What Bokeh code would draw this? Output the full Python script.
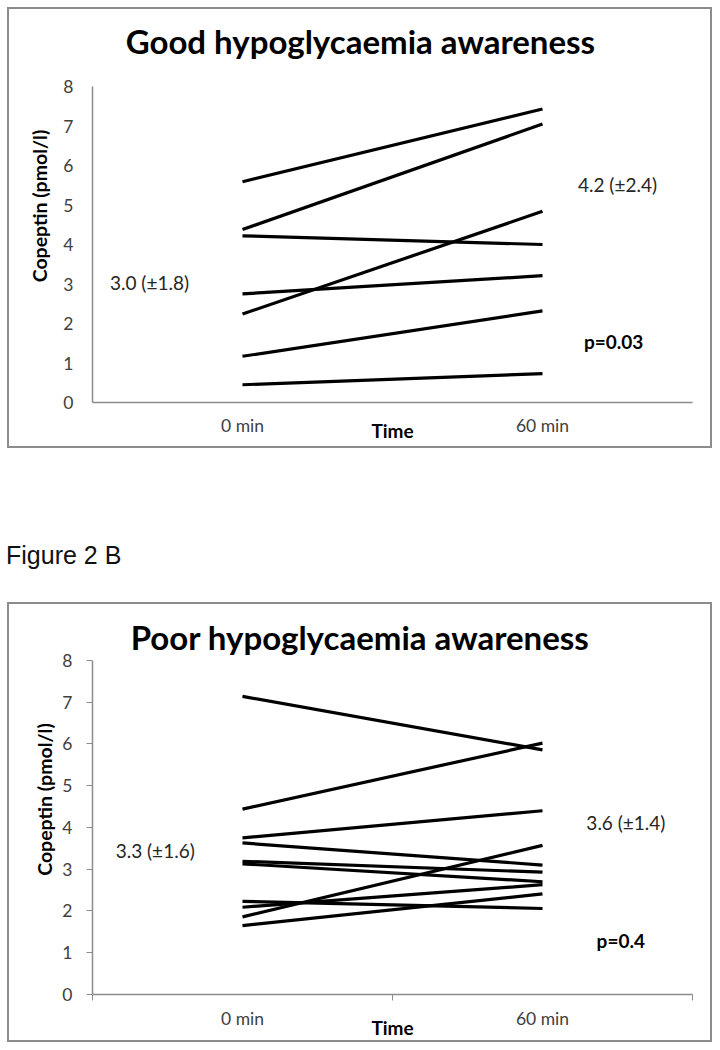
from bokeh.plotting import figure
from bokeh.models import Range1d, FixedTicker, Label, Div
from bokeh.layouts import column
from bokeh.embed import file_html
from bokeh.resources import INLINE

# ---------------- data ----------------
times = ["0 min", "60 min"]
y_ticks = [0, 1, 2, 3, 4, 5, 6, 7, 8]

good_title = "Good hypoglycaemia awareness"
good_0 = [5.59, 4.38, 4.22, 2.75, 2.24, 1.17, 0.45]
good_60 = [7.43, 7.05, 4.00, 3.21, 4.84, 2.32, 0.73]
good_mean0 = "3.0 (±1.8)"
good_mean60 = "4.2 (±2.4)"
good_p = "p=0.03"

poor_title = "Poor hypoglycaemia awareness"
poor_0 = [7.14, 4.44, 3.75, 3.63, 3.19, 3.13, 2.23, 2.09, 1.86, 1.65]
poor_60 = [5.86, 6.02, 4.40, 3.10, 2.93, 2.70, 2.06, 2.63, 3.57, 2.41]
poor_mean0 = "3.3 (±1.6)"
poor_mean60 = "3.6 (±1.4)"
poor_p = "p=0.4"

FONT = "Lato"
GRAY = "#8c8c8c"
TXT = "#404040"


def panel(height, y_top, title, title_pos, v0, v60, m0, m60, ptxt, lab_pos, borders,
          ticks, tick_standoff, time_standoff, ylab_standoff):
    left, right, bottom = borders
    p = figure(width=705, height=height, output_backend="svg", toolbar_location=None,
               x_range=Range1d(0, len(times)), y_range=Range1d(y_ticks[0], y_top),
               min_border_left=left, min_border_right=right,
               min_border_top=0, min_border_bottom=bottom)
    p.styles = {"border": "2px solid " + GRAY}
    p.outline_line_color = None
    p.grid.visible = False
    p.background_fill_color = "white"
    p.border_fill_color = "white"

    # chart title
    p.add_layout(Label(x=title_pos[0], y=title_pos[1], text=title, text_align="center",
                       text_baseline="middle", text_font=FONT, text_font_style="bold",
                       text_font_size="33px", text_color="black"))

    centers = [i + 0.5 for i in range(len(times))]
    xs = [centers for _ in v0]
    ys = [[a, b] for a, b in zip(v0, v60)]
    p.multi_line(xs, ys, line_color="black", line_width=3.2)

    # x axis
    xa = p.xaxis[0]
    xa.ticker = FixedTicker(ticks=centers,
                            minor_ticks=list(range(len(times) + 1)) if ticks else [])
    xa.major_label_overrides = {c: t for c, t in zip(centers, times)}
    xa.major_tick_line_color = None
    xa.major_tick_out = 0
    xa.major_tick_in = 0
    xa.minor_tick_line_color = GRAY if ticks else None
    xa.minor_tick_out = 6
    xa.minor_tick_in = 0
    xa.axis_line_color = GRAY
    xa.axis_line_width = 1.5
    xa.major_label_text_font = FONT
    xa.major_label_text_font_size = "17.5px"
    xa.major_label_text_color = TXT
    xa.major_label_standoff = tick_standoff
    xa.axis_label = "Time"
    xa.axis_label_text_font = FONT
    xa.axis_label_text_font_style = "bold"
    xa.axis_label_text_font_size = "19px"
    xa.axis_label_text_color = "black"
    xa.axis_label_standoff = time_standoff

    # y axis (line limited to the 0-8 scale)
    ya = p.yaxis[0]
    ya.bounds = (y_ticks[0], y_ticks[-1])
    ya.ticker = FixedTicker(ticks=y_ticks, minor_ticks=[])
    ya.axis_line_color = GRAY
    ya.axis_line_width = 1.5
    ya.major_tick_line_color = GRAY if ticks else None
    ya.major_tick_out = 6 if ticks else 0
    ya.major_tick_in = 0
    ya.minor_tick_line_color = None
    ya.major_label_text_font = FONT
    ya.major_label_text_font_size = "17.5px"
    ya.major_label_text_color = TXT
    ya.major_label_standoff = 14 if ticks else 19
    ya.axis_label = "Copeptin (pmol/l)"
    ya.axis_label_text_font = FONT
    ya.axis_label_text_font_style = "bold"
    ya.axis_label_text_font_size = "19.5px"
    ya.axis_label_text_color = "black"
    ya.axis_label_standoff = ylab_standoff

    for txt, (x, y), bold in zip([m0, m60, ptxt], lab_pos, [False, False, True]):
        p.add_layout(Label(x=x, y=y, text=txt, text_align="center", text_baseline="middle",
                           text_font=FONT, text_font_size="19px",
                           text_font_style="bold" if bold else "normal",
                           text_color="black" if bold else "#262626"))
    return p


pa = panel(441, 9.95, good_title, (0.893, 9.14), good_0, good_60,
           good_mean0, good_mean60, good_p,
           [(0.19, 3.04), (1.75, 5.52), (1.737, 1.54)],
           (83, 22, 48), False, 12, -20, 9)
pb = panel(440, 9.34, poor_title, (0.892, 8.55), poor_0, poor_60,
           poor_mean0, poor_mean60, poor_p,
           [(0.209, 3.45), (1.778, 4.12), (1.761, 1.29)],
           (83, 18, 50), True, 7, -16, 3)

cap = Div(text='<div style="padding-top:93px;margin-left:-1px;'
               'font-family:\'Liberation Sans\',Arial,sans-serif;'
               'font-size:25px;color:#111;line-height:28px;">Figure 2 B</div>',
          width=705, height=154, margin=0)

layout = column(pa, cap, pb, spacing=0, margin=(7, 0, 0, 7))
open("out.html", "w").write(file_html(layout, INLINE))
